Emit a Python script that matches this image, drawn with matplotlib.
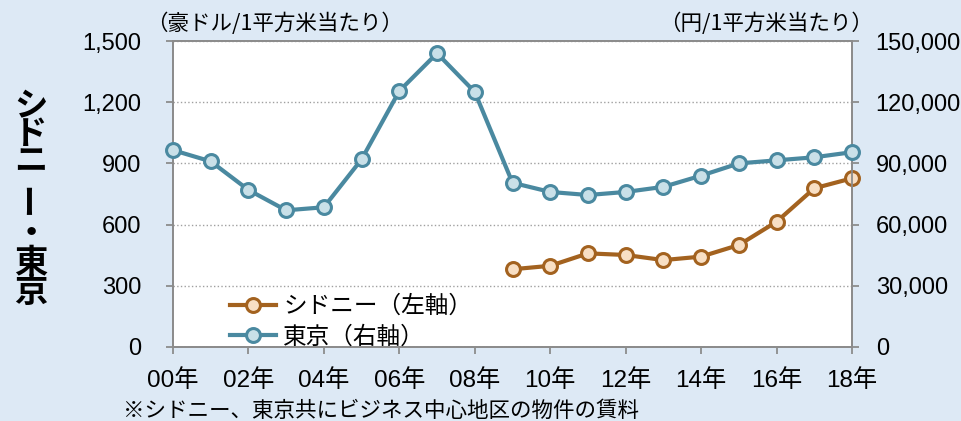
import matplotlib
matplotlib.use('Agg')
import matplotlib.pyplot as plt

plt.rcParams['font.family'] = ['Liberation Sans', 'Noto Sans CJK JP', 'DejaVu Sans']

# データ
years = list(range(0, 19))
year_labels = ['00年', '02年', '04年', '06年', '08年', '10年', '12年', '14年', '16年', '18年']
tokyo = [96500, 91000, 77000, 67000, 68500, 92000, 125500, 144000, 125000,
         80500, 76000, 74500, 76000, 78500, 84000, 90000, 91500, 93000, 95500]
sydney_years = list(range(9, 19))
sydney = [381, 398, 459, 451, 426, 443, 500, 614, 778, 827]
left_ticks = [0, 300, 600, 900, 1200, 1500]
right_ticks = [0, 30000, 60000, 90000, 120000, 150000]

bg = '#dde9f5'
tokyo_c = '#4a89a0'
tokyo_face = '#c9e0e8'
syd_c = '#a3621f'
syd_face = '#f8dfc4'
spine_c = '#8c8c8c'
jp = ['Noto Sans CJK JP']

fig = plt.figure(figsize=(9.62, 4.21), dpi=100, facecolor=bg)
ax = fig.add_axes([0.1798, 0.1758, 0.7059, 0.7268])
ax2 = ax.twinx()

ax.set_facecolor('white')
ax.set_xlim(0, 18)
ax.set_ylim(0, 1500)
ax2.set_ylim(0, 150000)

ax.set_yticks(left_ticks)
ax.set_yticklabels([f'{v:,}' for v in left_ticks], fontsize=17)
ax2.set_yticks(right_ticks)
ax2.set_yticklabels([f'{v:,}' for v in right_ticks], fontsize=17)
ax.set_xticks(years[::2])
ax.set_xticklabels(year_labels, fontsize=17.5)

ax.grid(axis='y', color='#a0a0a0', linestyle=':', linewidth=1)
ax.set_axisbelow(True)
for a in (ax, ax2):
    for s in a.spines.values():
        s.set_color(spine_c)
        s.set_linewidth(1.3)
    a.tick_params(colors=spine_c, labelcolor='black', length=5, width=1.3)
ax.tick_params(axis='x', pad=11)
ax.tick_params(axis='y', pad=18)
ax2.tick_params(axis='y', pad=12)

l_syd, = ax.plot(sydney_years, sydney, color=syd_c, linewidth=3, marker='o',
                 markersize=10, markerfacecolor=syd_face, markeredgecolor=syd_c,
                 markeredgewidth=2.2, clip_on=False, zorder=5)
l_tok, = ax2.plot(years, tokyo, color=tokyo_c, linewidth=3, marker='o',
                  markersize=10, markerfacecolor=tokyo_face, markeredgecolor=tokyo_c,
                  markeredgewidth=2.2, clip_on=False, zorder=5)

ax2.legend([l_syd, l_tok], ['シドニー（左軸）', '東京（右軸）'], loc='lower left',
           bbox_to_anchor=(0.07, -0.035), frameon=False,
           handlelength=1.95, handletextpad=0.3, labelspacing=0.3,
           borderaxespad=0, prop={'family': jp, 'size': 17})

# 単位
fig.text(0.152, 0.944, '（豪ドル/1平方米当たり）', fontsize=15.5,
         family=jp, ha='left', va='center')
fig.text(0.907, 0.944, '（円/1平方米当たり）', fontsize=15.5,
         family=jp, ha='right', va='center')

# 縦書きタイトル（ーだけ回転させる）
fig.text(0.032, 1 - 134 / 421, 'シ\nド\nニ', fontsize=24, fontweight='bold',
         family=jp, ha='center', va='center', linespacing=0.78)
fig.text(0.032, 1 - 197 / 421, 'ー', fontsize=24, fontweight='bold',
         family=jp, ha='center', va='center', rotation=90)
fig.text(0.032, 1 - 263 / 421, '・\n東\n京', fontsize=24, fontweight='bold',
         family=jp, ha='center', va='center', linespacing=0.85)

fig.text(0.128, 0.024, '※シドニー、東京共にビジネス中心地区の物件の賃料', fontsize=15.5,
         family=jp, ha='left', va='center')

fig.savefig('out.png', dpi=100, facecolor=bg)
